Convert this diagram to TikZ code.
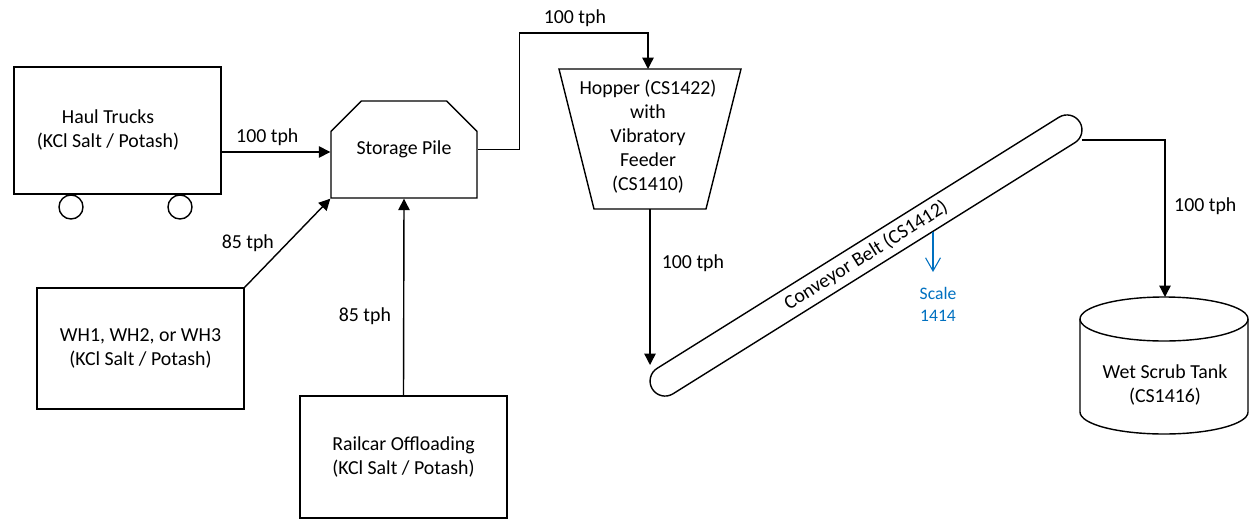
\documentclass[tikz,border=0pt]{standalone}
\usepackage{fontspec}
\setmainfont{Carlito}
\usetikzlibrary{arrows.meta,shapes.geometric,shapes.misc}
\definecolor{scaleblue}{RGB}{0,112,192}

\begin{document}
\begin{tikzpicture}[x=0.02cm, y=-0.02cm, line width=0.8pt,
  every node/.style={font=\fontsize{11.3}{13.7}\selectfont, align=center},
  flow/.style={-{Triangle[length=6.5pt,width=6.5pt]}},
  unit/.style={draw, minimum width=4.14cm},
  wheel/.style={draw, circle, minimum size=0.48cm, inner sep=0pt}]
\useasboundingbox (0,0) rectangle (1250,521);

% sources
\node[unit, minimum height=2.54cm] (trucks) at (117.5,130.5) {};
\node (truckslbl) at (108,130) {Haul Trucks\\(KCl Salt / Potash)};
\node[wheel] (wheelL) at (71,207) {};
\node[wheel] (wheelR) at (180,207) {};
\node[unit, minimum height=2.42cm] (wh) at (140.5,348.5) {WH1, WH2, or WH3\\(KCl Salt / Potash)};
\node[unit, minimum height=2.44cm] (rail) at (403.5,457) {Railcar Offloading\\(KCl Salt / Potash)};

% pile, hopper, belt
\node[draw, chamfered rectangle, chamfered rectangle corners={north west,north east},
  chamfered rectangle xsep=0.32cm, chamfered rectangle ysep=0.32cm,
  minimum width=2.92cm, minimum height=1.94cm] (pile) at (404,149.5) {Storage Pile};
\draw (559,69) coordinate (hoppertop) -- (741,69) -- (706,209) -- (594,209) -- cycle;
\coordinate (hopperin) at (648,69);
\coordinate (hopperout) at (650,209);
\node (hopper) at (648,136.5) {Hopper (CS1422)\\with\\Vibratory\\Feeder\\(CS1410)};
\node[draw, rounded corners=0.3cm, minimum width=10.08cm, minimum height=0.6cm,
  inner sep=0pt, rotate=32] (belt) at (866,255.5) {Conveyor Belt (CS1412)};

% tank
\draw (1080,319) -- (1080,412) arc[start angle=180, end angle=0, x radius=84, y radius=22] -- (1248,319);
\draw (1164,319) ellipse[x radius=84, y radius=22];
\node (tank) at (1165,385) {Wet Scrub Tank\\(CS1416)};

\coordinate (beltin) at (650,365);
\coordinate (beltout) at (1082,140);
\coordinate (tanktop) at (1165,297);
\coordinate (scaletap) at (933,232);
\node[text=scaleblue, font=\fontsize{10}{12.5}\selectfont] (scale) at (938,304.5) {Scale\\1414};

% flows
\draw[flow] (trucks.east |- 0,152) -- node[above, pos=0.42] {100 tph} (pile.west |- 0,152);
\draw[flow] (wh.north east) -- node[left=4pt] {85 tph} (pile.south west);
\draw[flow] (rail.north) -- node[left=3.5pt, pos=0.4] {85 tph} (pile.south);
\draw[flow] (pile.east) -- ++(42,0) -- ++(0,-116.5) -| node[above, pos=0.215] {100 tph} (hopperin);
\draw[flow] (hopperout) -- node[right=3pt, pos=0.35] {100 tph} (beltin);
\draw[flow] (beltout) -| node[right=1.5pt, pos=0.71] {100 tph} (tanktop);
\draw[scaleblue, line width=0.6pt, -{Straight Barb[length=7.5pt,width=8.5pt]}] (scaletap) -- ++(0,40);
\end{tikzpicture}
\end{document}
